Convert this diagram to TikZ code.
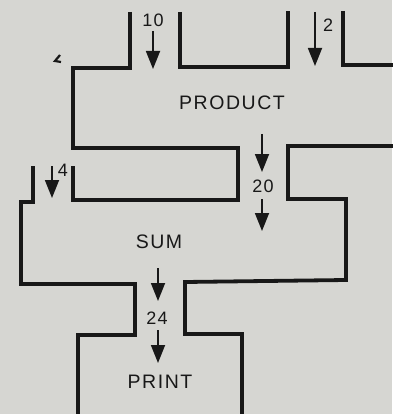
\documentclass[tikz,border=0pt]{standalone}
\usepackage{fontspec}
\setmainfont{Liberation Sans}
\usetikzlibrary{arrows.meta}
\definecolor{paper}{RGB}{214,214,210}
\definecolor{ink}{RGB}{24,24,24}
\tikzset{
  wall/.style={draw=ink, line width=3.8pt, line join=miter, line cap=butt},
  flow/.style={draw=ink, line width=1.8pt, -{Triangle[width=14pt,length=18pt]}},
  lbl/.style={text=ink, font=\fontsize{19.5}{20}\selectfont\addfontfeatures{LetterSpace=8}, inner sep=0pt},
  num/.style={text=ink, font=\fontsize{18}{18}\selectfont\addfontfeatures{LetterSpace=6}, inner sep=0pt}
}
\begin{document}
\begin{tikzpicture}[x=1pt,y=-1pt]
\fill[paper] (0,0) rectangle (392,414);
\useasboundingbox (0,0) rectangle (392,414);
% outlines
\draw[wall] (130,12) -- (130,68) -- (73,68) -- (73,148) -- (238,148) -- (238,200) -- (73,200) -- (73,166);
\draw[wall] (33,166) -- (33,202) -- (21,202) -- (21,284) -- (135,284) -- (135,335) -- (78,335) -- (78,416);
\draw[wall] (242,416) -- (242,334) -- (185,334) -- (185,282) -- (346,280) -- (346,199) -- (288,199) -- (288,146) -- (395,146);
\draw[wall] (180,12) -- (180,67) -- (288,67) -- (288,11);
\draw[wall] (343,11) -- (343,65) -- (395,65);
% small mark
\draw[ink, line width=2.2pt] (60,55) -- (55,61) -- (61,62);
% labels
\node[lbl] (product) at (232,103) {PRODUCT};
\node[lbl] (sum) at (159,242) {SUM};
\node[lbl] (print) at (160,382) {PRINT};
\node[num] (n10) at (153,20) {10};
\node[num] (n2) at (328,25) {2};
\node[num] (n4) at (63,170) {4};
\node[num] (n20) at (263,186) {20};
\node[num] (n24) at (157,318) {24};
% arrow end points
\coordinate (a10s) at (153,31);
\coordinate (a10e) at (153,69);
\coordinate (a2s) at (315,12);
\coordinate (a2e) at (315,66);
\coordinate (a4s) at (52,166);
\coordinate (a4e) at (52,198);
\coordinate (a20s) at (262,134);
\coordinate (a20m) at (262,172);
\coordinate (a20n) at (262,199);
\coordinate (a20e) at (262,231);
\coordinate (a24s) at (158,268);
\coordinate (a24m) at (158,301);
\coordinate (a24n) at (158,330);
\coordinate (a24e) at (158,363);
\draw[flow] (a10s) -- (a10e);
\draw[flow] (a2s) -- (a2e);
\draw[flow] (a4s) -- (a4e);
\draw[flow] (a20s) -- (a20m);
\draw[flow] (a20n) -- (a20e);
\draw[flow] (a24s) -- (a24m);
\draw[flow] (a24n) -- (a24e);
\end{tikzpicture}
\end{document}
